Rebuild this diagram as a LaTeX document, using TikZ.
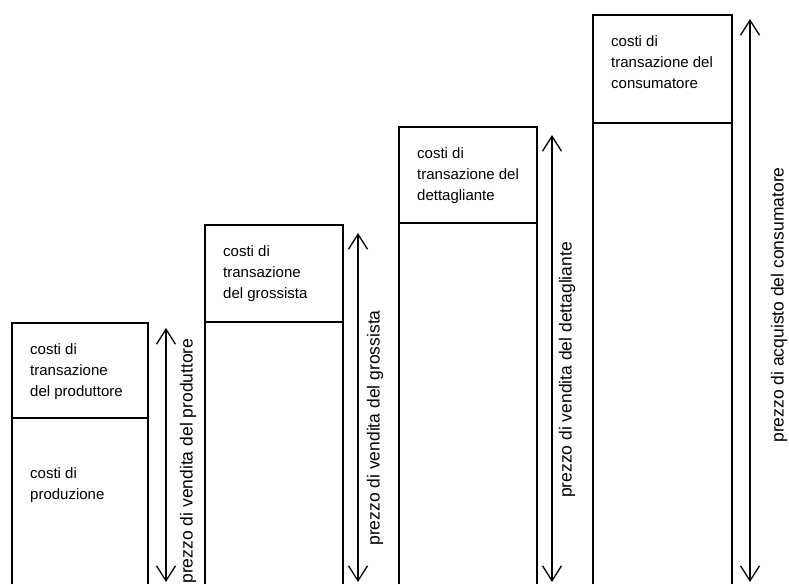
\documentclass[tikz,border=0pt]{standalone}
\usepackage{fontspec}
\setmainfont{Liberation Sans}
\usetikzlibrary{arrows.meta}
\begin{document}
\begin{tikzpicture}[x=1pt,y=-1pt,
  bar/.style={line width=1.6pt, line join=miter},
  boxtext/.style={anchor=north west, align=left, inner sep=0pt, font=\fontsize{15}{21}\selectfont},
  dimarrow/.style={line width=1.3pt, {Straight Barb[length=15pt,width=19pt]}-{Straight Barb[length=15pt,width=19pt]}},
  dimlabel/.style={rotate=90, inner sep=0pt, font=\fontsize{17.5}{21}\selectfont}]
\useasboundingbox (0,0) rectangle (789,584);
% bar 1 : produttore
\draw[bar] (12,584) -- (12,323) -- (148,323) -- (148,584);
\draw[bar] (12,418) -- (148,418);
\node[boxtext] (t1) at (30,343) {costi di\\transazione\\del produttore};
\node[boxtext] (p1) at (30,467) {costi di\\produzione};
% bar 2 : grossista
\draw[bar] (205,584) -- (205,225) -- (343,225) -- (343,584);
\draw[bar] (205,322) -- (343,322);
\node[boxtext] (t2) at (223,245) {costi di\\transazione\\del grossista};
% bar 3 : dettagliante
\draw[bar] (399,584) -- (399,127) -- (537,127) -- (537,584);
\draw[bar] (399,223) -- (537,223);
\node[boxtext] (t3) at (417,147) {costi di\\transazione del\\dettagliante};
% bar 4 : consumatore
\draw[bar] (593,584) -- (593,15) -- (732,15) -- (732,584);
\draw[bar] (593,123) -- (732,123);
\node[boxtext] (t4) at (611,35) {costi di\\transazione del\\consumatore};
% dimension arrows
\coordinate (a1t) at (166,328); \coordinate (a1b) at (166,582);
\coordinate (a2t) at (358,233); \coordinate (a2b) at (358,582);
\coordinate (a3t) at (552,135); \coordinate (a3b) at (552,582);
\coordinate (a4t) at (750,19);  \coordinate (a4b) at (750,582);
\draw[dimarrow] (a1b) -- (a1t);
\draw[dimarrow] (a2b) -- (a2t);
\draw[dimarrow] (a3b) -- (a3t);
\draw[dimarrow] (a4b) -- (a4t);
\node[dimlabel] (l1) at (188,461) {prezzo di vendita del produttore};
\node[dimlabel] (l2) at (375,428) {prezzo di vendita del grossista};
\node[dimlabel] (l3) at (567,370) {prezzo di vendita del dettagliante};
\node[dimlabel] (l4) at (779,305) {prezzo di acquisto del consumatore};
\end{tikzpicture}
\end{document}
